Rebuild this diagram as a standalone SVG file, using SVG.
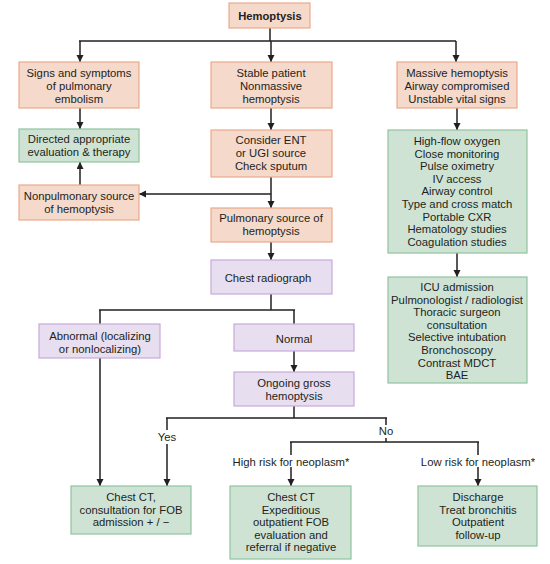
<svg xmlns="http://www.w3.org/2000/svg" width="550" height="564" viewBox="0 0 550 564">
<defs>
<style>
.o{fill:#f5d9cb;stroke:#e9a98b;stroke-width:1.2}
.g{fill:#cfe3d5;stroke:#8fc3a1;stroke-width:1.2}
.p{fill:#e7def0;stroke:#c8a9dc;stroke-width:1.2}
text{font-family:"Liberation Sans",Arial,sans-serif;font-size:11.3px;fill:#231f20;text-anchor:middle}
.b{font-weight:bold;font-size:11.2px}
.c line,.c polyline{stroke:#231f20;stroke-width:1.5;fill:none}
.a{marker-end:url(#ah)}
</style>
<marker id="ah" markerUnits="userSpaceOnUse" markerWidth="8" markerHeight="8" refX="7" refY="3.5" orient="auto">
<path d="M0,0 L7,3.5 L0,7 z" fill="#231f20"/>
</marker>
</defs>
<rect width="550" height="564" fill="#fff"/>
<g class="c" id="connectors">
<line x1="270" y1="28" x2="270" y2="41"/>
<line x1="79" y1="41" x2="456" y2="41"/>
<line class="a" x1="80" y1="41" x2="80" y2="62"/>
<line class="a" x1="271" y1="41" x2="271" y2="62"/>
<line class="a" x1="456" y1="41" x2="456" y2="62"/>
<line class="a" x1="80" y1="108" x2="80" y2="129"/>
<line class="a" x1="271" y1="108" x2="271" y2="130"/>
<line class="a" x1="457" y1="108" x2="457" y2="130"/>
<line class="a" x1="271" y1="177" x2="271" y2="208"/>
<line class="a" x1="271" y1="194" x2="139" y2="194"/>
<line class="a" x1="80" y1="185" x2="80" y2="162"/>
<line class="a" x1="271" y1="242" x2="271" y2="260"/>
<line class="a" x1="457" y1="253" x2="457" y2="277"/>
<polyline points="271,294 271,310"/>
<line x1="99" y1="310" x2="295" y2="310"/>
<line x1="100" y1="310" x2="100" y2="324"/>
<line x1="294" y1="310" x2="294" y2="324"/>
<line class="a" x1="100" y1="358" x2="100" y2="486"/>
<line class="a" x1="294" y1="351" x2="294" y2="372"/>
<line x1="294" y1="406" x2="294" y2="418"/>
<line x1="166" y1="418" x2="387" y2="418"/>
<line x1="167" y1="418" x2="167" y2="430"/>
<line class="a" x1="167" y1="444" x2="167" y2="486"/>
<line x1="386" y1="418" x2="386" y2="425"/>
<line x1="386" y1="438" x2="386" y2="442"/>
<line x1="290" y1="442" x2="479" y2="442"/>
<line x1="291" y1="442" x2="291" y2="455"/>
<line class="a" x1="291" y1="467" x2="291" y2="486"/>
<line x1="478" y1="442" x2="478" y2="455"/>
<line class="a" x1="478" y1="467" x2="478" y2="486"/>
</g>
<g id="hemoptysis"><rect class="o" x="229" y="3" width="81" height="25"/><text class="b" x="270" y="19.5">Hemoptysis</text></g>
<g id="signs"><rect class="o" x="19" y="62" width="120" height="46"/><text x="79" y="77">Signs and symptoms</text><text x="79" y="90">of pulmonary</text><text x="79" y="103">embolism</text></g>
<g id="stable"><rect class="o" x="211" y="62" width="121" height="46"/><text x="271" y="77">Stable patient</text><text x="271" y="90">Nonmassive</text><text x="271" y="103">hemoptysis</text></g>
<g id="massive"><rect class="o" x="397" y="62" width="120" height="46"/><text x="457" y="77">Massive hemoptysis</text><text x="457" y="90">Airway compromised</text><text x="457" y="103">Unstable vital signs</text></g>
<g id="directed"><rect class="g" x="19" y="129" width="120" height="33"/><text x="79" y="143">Directed appropriate</text><text x="79" y="156">evaluation &amp; therapy</text></g>
<g id="consider"><rect class="o" x="211" y="130" width="121" height="47"/><text x="271" y="144">Consider ENT</text><text x="271" y="157">or UGI source</text><text x="271" y="170">Check sputum</text></g>
<g id="highflow"><rect class="g" x="388" y="130" width="139" height="123"/>
<text x="457" y="145">High-flow oxygen</text><text x="457" y="157.6">Close monitoring</text><text x="457" y="170.2">Pulse oximetry</text><text x="457" y="182.8">IV access</text><text x="457" y="195.4">Airway control</text><text x="457" y="208">Type and cross match</text><text x="457" y="220.6">Portable CXR</text><text x="457" y="233.2">Hematology studies</text><text x="457" y="245.8">Coagulation studies</text></g>
<g id="nonpulmonary"><rect class="o" x="19" y="185" width="120" height="35"/><text x="79" y="200">Nonpulmonary source</text><text x="79" y="213">of hemoptysis</text></g>
<g id="pulmonary"><rect class="o" x="211" y="208" width="121" height="34"/><text x="271" y="222">Pulmonary source of</text><text x="271" y="235">hemoptysis</text></g>
<g id="radiograph"><rect class="p" x="211" y="260" width="121" height="34"/><text x="268" y="282">Chest radiograph</text></g>
<g id="icu"><rect class="g" x="388" y="277" width="139" height="106"/>
<text x="457" y="291">ICU admission</text><text x="457" y="303.6">Pulmonologist / radiologist</text><text x="457" y="316.2">Thoracic surgeon</text><text x="457" y="328.8">consultation</text><text x="457" y="341.4">Selective intubation</text><text x="457" y="354">Bronchoscopy</text><text x="457" y="366.6">Contrast MDCT</text><text x="457" y="379.2">BAE</text></g>
<g id="abnormal"><rect class="p" x="39" y="324" width="121" height="34"/><text x="100" y="340">Abnormal (localizing</text><text x="100" y="352.6">or nonlocalizing)</text></g>
<g id="normal"><rect class="p" x="234" y="324" width="120" height="27"/><text x="294" y="343">Normal</text></g>
<g id="ongoing"><rect class="p" x="234" y="372" width="120" height="34"/><text x="294" y="387">Ongoing gross</text><text x="294" y="399.6">hemoptysis</text></g>
<g id="labels">
<text x="167" y="441">Yes</text>
<text x="386" y="435">No</text>
<text x="291" y="465.5">High risk for neoplasm*</text>
<text x="478" y="465.5">Low risk for neoplasm*</text>
</g>
<g id="chestct1"><rect class="g" x="71" y="486" width="120" height="48"/><text x="131" y="501">Chest CT,</text><text x="131" y="513.6">consultation for FOB</text><text x="131" y="526.2">admission + / −</text></g>
<g id="chestct2"><rect class="g" x="230" y="486" width="121" height="73"/><text x="291" y="501">Chest CT</text><text x="291" y="513.6">Expeditious</text><text x="291" y="526.2">outpatient FOB</text><text x="291" y="538.8">evaluation and</text><text x="291" y="551.4">referral if negative</text></g>
<g id="discharge"><rect class="g" x="418" y="486" width="119" height="60"/><text x="478" y="501">Discharge</text><text x="478" y="513.6">Treat bronchitis</text><text x="478" y="526.2">Outpatient</text><text x="478" y="538.8">follow-up</text></g>
</svg>
